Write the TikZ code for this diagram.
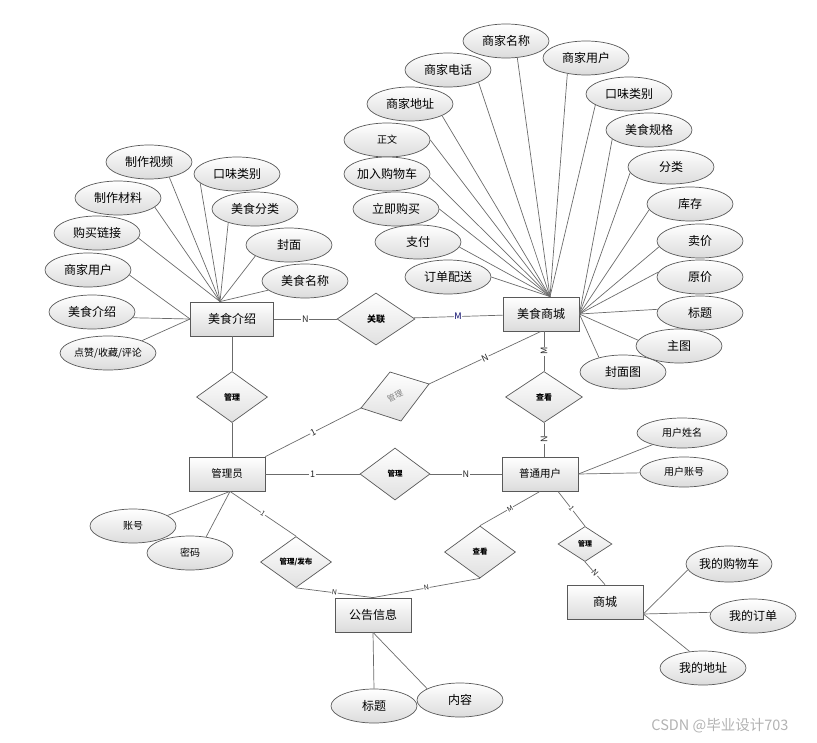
\documentclass[tikz,border=0pt]{standalone}
\usepackage{fontspec}
\setmainfont{Noto Sans CJK SC}
\usetikzlibrary{shapes.geometric,calc}
\begin{document}
\begin{tikzpicture}[x=1pt,y=-1pt,
 lnk/.style={draw=black!58, line width=0.7pt},
 ent/.style={draw=black!65, line width=0.8pt, rectangle, minimum width=76pt, minimum height=34pt, inner sep=0pt, top color=white, bottom color=black!14, font=\fontsize{12}{12}\selectfont},
 attr/.style={draw=black!65, line width=0.7pt, ellipse, minimum width=86pt, minimum height=34pt, inner sep=0pt, top color=white, bottom color=black!14, font=\fontsize{12}{12}\selectfont},
 rel/.style={draw=black!65, line width=0.7pt, diamond, minimum width=72pt, minimum height=52pt, inner sep=0pt, top color=white, bottom color=black!12, font=\bfseries\fontsize{8}{8}\selectfont},
 card/.style={font=\fontsize{9}{9}\selectfont, fill=white, inner sep=0.6pt, text=black!85},
 small/.style={font=\fontsize{10}{10}\selectfont},
]
\useasboundingbox (0,0) rectangle (817,742);

% ---------- entities ----------
\node[ent, minimum width=83pt] (mj) at (232,319) {美食介绍};
\node[ent] (sc) at (541,314) {美食商城};
\node[ent, font=\fontsize{10.5}{10.5}\selectfont] (gly) at (227,474) {管理员};
\node[ent, font=\fontsize{10.5}{10.5}\selectfont] (pt) at (540,474) {普通用户};
\node[ent] (gg) at (373,615) {公告信息};
\node[ent] (shc) at (605,602) {商城};

% ---------- relationships ----------
\node[rel, minimum width=78pt, font=\bfseries\fontsize{9}{9}\selectfont] (gl) at (376,319) {关联};
\node[rel, minimum width=71pt, minimum height=51pt] (r1) at (232,397) {管理};
\node[rel, minimum width=77pt, minimum height=51pt] (ck1) at (544,397) {查看};
\node[rel, minimum width=70pt, font=\bfseries\fontsize{7.5}{7.5}\selectfont] (r3) at (395,474) {管理};
\node[rel, minimum width=71pt, minimum height=51pt, font=\bfseries\fontsize{7.5}{7.5}\selectfont] (fb) at (296,562) {管理/发布};
\node[rel, minimum width=71pt, font=\bfseries\fontsize{7.5}{7.5}\selectfont] (ck2) at (480,552) {查看};
\node[rel, minimum width=54pt, minimum height=35pt, font=\bfseries\fontsize{7}{7}\selectfont] (r4) at (585,544) {管理};
% tilted relationship
\coordinate (rl) at (361,408);
\coordinate (rt) at (390,372);
\coordinate (rr) at (429,384);
\coordinate (rb) at (401,421);
\draw[draw=black!65, line width=0.7pt, top color=white, bottom color=black!12] (rl) -- (rt) -- (rr) -- (rb) -- cycle;
\node[rotate=25, text=black!50, font=\fontsize{8}{8}\selectfont] (r2) at (395,396) {管理};

% ---------- attributes of 美食介绍 ----------
\node[attr] (a1) at (149,162) {制作视频};
\node[attr] (a2) at (237,174) {口味类别};
\node[attr] (a3) at (118,198) {制作材料};
\node[attr] (a4) at (255,209) {美食分类};
\node[attr] (a5) at (97,233) {购买链接};
\node[attr] (a6) at (289,245) {封面};
\node[attr] (a7) at (88,270) {商家用户};
\node[attr] (a8) at (305,281) {美食名称};
\node[attr] (a9) at (92,312) {美食介绍};
\node[attr, small] (a10) at (108,353) {点赞/收藏/评论};

% ---------- attributes of 美食商城 ----------
\node[attr] (b1) at (506,41) {商家名称};
\node[attr] (b2) at (586,58) {商家用户};
\node[attr] (b3) at (448,70) {商家电话};
\node[attr] (b4) at (629,94) {口味类别};
\node[attr] (b5) at (410,104) {商家地址};
\node[attr] (b6) at (649,130) {美食规格};
\node[attr, small] (b7) at (387,140) {正文};
\node[attr] (b8) at (671,167) {分类};
\node[attr] (b9) at (387,174) {加入购物车};
\node[attr] (b10) at (690,204) {库存};
\node[attr] (b11) at (396,209) {立即购买};
\node[attr] (b12) at (418,242) {支付};
\node[attr] (b13) at (700,241) {卖价};
\node[attr] (b14) at (448,277) {订单配送};
\node[attr] (b15) at (700,277) {原价};
\node[attr] (b16) at (700,313) {标题};
\node[attr] (b17) at (679,346) {主图};
\node[attr] (b18) at (623,372) {封面图};

% ---------- other attributes ----------
\node[attr, small, minimum width=90pt, minimum height=30pt] (c1) at (682,433) {用户姓名};
\node[attr, small, minimum width=88pt, minimum height=30pt] (c2) at (684,472) {用户账号};
\node[attr, small] (d1) at (133,526) {账号};
\node[attr, small] (d2) at (190,553) {密码};
\node[attr] (e1) at (374,706) {标题};
\node[attr] (e2) at (460,700) {内容};
\node[attr, minimum height=36pt] (f1) at (729,564) {我的购物车};
\node[attr] (f2) at (753,616) {我的订单};
\node[attr] (f3) at (703,668) {我的地址};

% ---------- anchor points ----------
\coordinate (mjT) at ([xshift=-12pt]mj.north);
\coordinate (scT) at ([xshift=9pt]sc.north);
\coordinate (glyB) at ([xshift=3pt]gly.south);
\coordinate (shcR) at ([yshift=-12pt]shc.east);

% ---------- attribute lines ----------
\foreach \n/\a in {a1/-37,a2/194,a3/-14,a4/207,a5/-7,a6/198,a8/194} \draw[lnk] (\n.\a) -- (mjT);
\foreach \n/\a in {a7/-7,a9/-8,a10/20} \draw[lnk] (\n.\a) -- (mj.west);
\foreach \n/\a in {b1/-56,b2/220,b3/-22,b4/198,b5/-20,b7/0,b9/-4,b11/0,b12/-7,b14/0} \draw[lnk] (\n.\a) -- (scT);
\foreach \n/\a in {b6/194,b8/188,b10/188,b13/188,b15/173,b16/175,b17/172,b18/149} \draw[lnk] (\n.\a) -- (sc.east);
\foreach \n in {c1,c2} \draw[lnk] (\n) -- (pt.east);
\foreach \n/\a in {d1/17,d2/45} \draw[lnk] (\n.\a) -- (glyB);
\draw[lnk] (e1.north) -- (gg.south);
\draw[lnk] (e2.161) -- (gg.south);
\foreach \n/\a in {f1/188,f2/175,f3/129} \draw[lnk] (\n.\a) -- (shcR);

% ---------- relationship lines ----------
\draw[lnk] (mj) -- (gl) node[card, midway] {N};
\draw[lnk] (gl) -- (sc) node[card, midway, text=blue!40!black] {M};
\draw[lnk] (mj.south) -- (r1.north);
\draw[lnk] (r1.south) -- (r1.south |- gly.north);
\draw[lnk] (ck1.north |- sc.south) -- (ck1.north) node[card, midway, rotate=90] {M};
\draw[lnk] (ck1.south) -- (ck1.south |- pt.north) node[card, midway, rotate=90] {N};
\draw[lnk] (gly.north east) -- (rl) node[card, midway, sloped] {1};
\draw[lnk] (rr) -- (sc.south) node[card, midway, sloped] {N};
\draw[lnk] (gly) -- (r3) node[card, midway] {1};
\draw[lnk] (r3) -- (pt) node[card, midway] {N};
\draw[lnk] (glyB) -- (fb.north) node[card, midway, sloped, font=\fontsize{7}{7}\selectfont] {1};
\draw[lnk] (fb.south) -- (gg.north) node[card, midway, sloped, font=\fontsize{7}{7}\selectfont] {N};
\draw[lnk] (ck2.south) -- (gg.north) node[card, midway, sloped, font=\fontsize{7}{7}\selectfont] {N};
\draw[lnk] (pt.south) -- (ck2.north) node[card, midway, sloped, font=\fontsize{7}{7}\selectfont] {M};
\draw[lnk] ([xshift=18pt]pt.south) -- (r4.north) node[card, midway, sloped, font=\fontsize{7}{7}\selectfont] {1};
\draw[lnk] (r4.south) -- (shc.north) node[card, midway, sloped, font=\fontsize{8}{8}\selectfont] {N};

% ---------- watermark ----------
\node[text=black!30, font=\fontsize{14.5}{14.5}\selectfont] (wm) at (720,726) {CSDN @毕业设计703};
\end{tikzpicture}
\end{document}
